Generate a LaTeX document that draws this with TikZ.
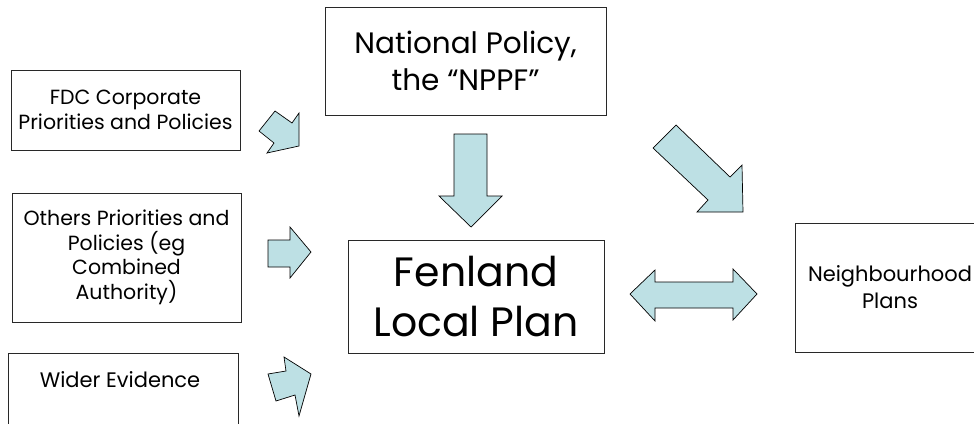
\documentclass[tikz,border=0pt]{standalone}
\usepackage{fontspec}
\setmainfont{Poppins}
\definecolor{arrowfill}{RGB}{189,224,228}
\definecolor{edge}{RGB}{40,40,40}
\begin{document}
\begin{tikzpicture}[x=1pt,y=-1pt,
  box/.style={draw=edge,line width=1pt,fill=white,align=center,inner sep=0pt,text=black},
  smalltxt/.style={font=\fontsize{20.5}{24.5}\selectfont},
  blockarrow/.style={draw=black,line width=0.7pt,fill=arrowfill,line join=miter}]
\useasboundingbox (0,0) rectangle (974,423);
\clip (0,0) rectangle (974,423);

% source boxes on the left
\node[box,smalltxt,minimum width=229pt,minimum height=80pt] (fdc) at (125.5,110)
  {FDC Corporate\\Priorities and Policies};
\node[box,smalltxt,minimum width=229pt,minimum height=129pt] (others) at (126.5,257.5)
  {Others Priorities and\\Policies (eg\\Combined\\Authority)};
\node[box,minimum width=230pt,minimum height=110pt,anchor=north] (wider) at (123,353) {};
\node[font=\fontsize{21}{25}\selectfont,anchor=base] (widertxt) at (120,387) {Wider Evidence};

% national policy and the local plan
\node[box,font=\fontsize{29.5}{37}\selectfont,minimum width=281pt,minimum height=108pt] (national) at (465.5,61)
  {National Policy,\\the “NPPF”};
\node[box,font=\fontsize{41}{50}\selectfont,minimum width=256pt,minimum height=113pt] (fenland) at (476,296.5)
  {Fenland\\Local Plan};

% neighbourhood plans
\node[box,font=\fontsize{21}{27}\selectfont,minimum width=190pt,minimum height=129pt] (neigh) at (890,287.5)
  {Neighbourhood\\Plans};

% block arrows
\draw[blockarrow] (275,111) -- (259,131) -- (274,143) -- (267,153) -- (299,146) -- (299,113) -- (292,123) -- cycle;
\draw[blockarrow] (268,240) -- (268,267) -- (290,267) -- (290,278) -- (311,252) -- (290,227) -- (290,240) -- cycle;
\draw[blockarrow] (268,374) -- (276,401) -- (295,395) -- (299,416) -- (311,374) -- (284,357) -- (286,371) -- cycle;
\draw[blockarrow] (454,134) -- (487,134) -- (487,196) -- (502,196) -- (471,227) -- (439,196) -- (454,196) -- cycle;
\draw[blockarrow] (676,125) -- (653,148) -- (708,200) -- (697,212) -- (743,212) -- (742,165) -- (730,177) -- cycle;
\draw[blockarrow] (630,294) -- (655,270) -- (655,282) -- (733,282) -- (733,269) -- (757,294)
  -- (733,320) -- (733,308) -- (655,308) -- (655,321) -- cycle;
\end{tikzpicture}
\end{document}
